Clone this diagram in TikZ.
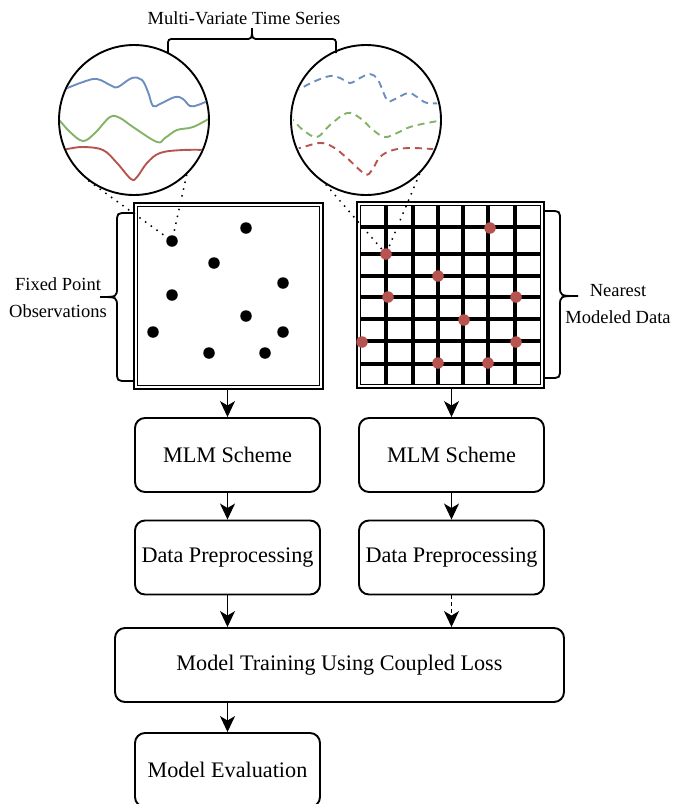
\documentclass[tikz,border=0pt]{standalone}
\usepackage{fontspec}
\setmainfont{Liberation Serif}
\usetikzlibrary{arrows.meta}
\definecolor{tsblue}{HTML}{6C8EBF}
\definecolor{tsgreen}{HTML}{82B366}
\definecolor{tsred}{HTML}{B85450}
\begin{document}
\begin{tikzpicture}[x=1pt,y=-1pt,
  flowbox/.style={draw, line width=1.9pt, rounded corners=10pt, minimum width=185pt, minimum height=74pt, inner sep=0pt, font=\fontsize{22.2}{26}\selectfont},
  >={Stealth[length=16pt,width=15pt,inset=4.5pt]},
  arr/.style={line width=1.7pt, ->},
  obsbox/.style={draw, line width=1.5pt, double=white, double distance=2.1pt, inner sep=0pt},
  mag/.style={circle, draw, line width=1.9pt, minimum size=150pt, inner sep=0pt},
  blackdot/.style={circle, fill=black, minimum size=11.5pt, inner sep=0pt},
  reddot/.style={circle, fill=tsred, minimum size=11.5pt, inner sep=0pt},
  dotline/.style={line width=1.5pt, dash pattern=on 1.5pt off 5.5pt},
  tsline/.style={line width=1.9pt},
  tsdash/.style={line width=1.9pt, dash pattern=on 7pt off 5pt},
  gridline/.style={line width=4pt},
  bracepath/.style={line width=1.8pt},
  lbl/.style={align=center, inner sep=0pt, font=\fontsize{18.5}{27}\selectfont}
]
\useasboundingbox (0,0) rectangle (674,804);

% magnifier circles
\node[mag] (lc) at (134,120) {};
\node[mag] (rc) at (366,120) {};

\begin{scope}
\clip (134,120) circle (74pt);
\draw[tsline, tsblue] plot[smooth, tension=0.6] coordinates {(58,92) (65,89) (83,82) (97,79) (112,86) (118,87) (132,78) (142,80) (148,92) (153,106) (160,104) (175,97) (183,99) (190,106) (198,105) (212,99)};
\draw[tsline, tsgreen] plot[smooth, tension=0.6] coordinates {(55,117) (60,121) (70,132) (83,141) (95,133) (110,117) (120,118) (133,127) (157,142) (165,138) (177,130) (193,127) (212,117)};
\draw[tsline, tsred] plot[smooth, tension=0.6] coordinates {(58,150) (67,149) (83,147) (103,150) (117,163) (131,179) (137,177) (147,163) (160,153) (183,150) (212,150)};
\end{scope}

\begin{scope}
\clip (366,120) circle (73pt);
\draw[tsdash, tsblue] plot[smooth, tension=0.6] coordinates {(293,92) (298,90) (313,82) (330,76) (340,78) (350,83) (360,78) (370,74) (378,80) (387,100) (393,100) (408,93) (417,97) (427,103) (444,103)};
\draw[tsdash, tsgreen] plot[smooth, tension=0.6] coordinates {(288,117) (293,120) (303,130) (317,137) (330,125) (347,113) (360,118) (373,130) (385,137) (397,133) (410,127) (427,123) (444,120)};
\draw[tsdash, tsred] plot[smooth, tension=0.6] coordinates {(294,149) (300,148) (320,143) (333,147) (347,158) (365,174) (372,170) (380,157) (393,150) (413,148) (444,150)};
\end{scope}

% top brace and title
\draw[bracepath] (168,53) -- (168,46) .. controls (168,39) .. (175,39) -- (245,39) .. controls (252,39) .. (252,28) .. controls (252,39) .. (259,39) -- (329,39) .. controls (336,39) .. (336,46) -- (336,53);
\node[lbl] (title) at (244,18) {Multi-Variate Time Series};

% observation boxes
\node[obsbox, minimum width=185.6pt, minimum height=182.6pt] (obsL) at (228.5,296) {};
\node[obsbox, minimum width=183.6pt, minimum height=182.6pt] (obsR) at (450.5,295) {};

% grid
\foreach \gx in {386,413,438,463,488,515} \draw[gridline] (\gx,206) -- (\gx,384);
\foreach \gy in {227,254,276,297,319,341,364} \draw[gridline] (361,\gy) -- (540,\gy);

% dots
\node[blackdot] (b1) at (172,241) {};
\node[blackdot] (b2) at (246,228) {};
\node[blackdot] (b3) at (214,263) {};
\node[blackdot] (b4) at (283,283) {};
\node[blackdot] (b5) at (172,295) {};
\node[blackdot] (b6) at (246,316) {};
\node[blackdot] (b7) at (153,332) {};
\node[blackdot] (b8) at (283,332) {};
\node[blackdot] (b9) at (209,353) {};
\node[blackdot] (b10) at (265,353) {};

\node[reddot] (r1) at (490,228) {};
\node[reddot] (r2) at (386,254) {};
\node[reddot] (r3) at (438,276) {};
\node[reddot] (r4) at (388,297) {};
\node[reddot] (r5) at (516,297) {};
\node[reddot] (r6) at (464,320) {};
\node[reddot] (r7) at (362,342) {};
\node[reddot] (r8) at (516,342) {};
\node[reddot] (r9) at (438,363) {};
\node[reddot] (r10) at (488,363) {};

% dotted magnifier lines
\draw[dotline] (lc.233) -- (b1);
\draw[dotline] (lc.314) -- (b1);
\draw[dotline] (rc.238) -- (r2);
\draw[dotline] (rc.315) -- (r2);

% side braces and labels
\draw[bracepath] (134,213) -- (127,213) .. controls (117,213) .. (117,223) -- (117,287) .. controls (117,297) .. (100,297) .. controls (117,297) .. (117,307) -- (117,371) .. controls (117,381) .. (127,381) -- (134,381);
\node[lbl] (fixed) at (58,298) {Fixed Point\\Observations};

\draw[bracepath] (544,211) -- (550,211) .. controls (560,211) .. (560,221) -- (560,286) .. controls (560,296) .. (578,296) .. controls (560,296) .. (560,306) -- (560,368) .. controls (560,378) .. (550,378) -- (544,378);
\node[lbl] (near) at (618,304) {Nearest\\Modeled Data};

% flow boxes
\node[flowbox] (mlmL) at (227.5,455) {MLM Scheme};
\node[flowbox] (mlmR) at (451.5,455) {MLM Scheme};
\node[flowbox] (dpL) at (227.5,557.5) {Data Preprocessing};
\node[flowbox] (dpR) at (451.5,557.5) {Data Preprocessing};
\node[flowbox, minimum width=449pt] (train) at (339.5,665) {Model Training Using Coupled Loss};
\node[flowbox] (eval) at (227.5,770) {Model Evaluation};

% arrows
\draw[arr] (obsL.south -| mlmL.north) -- (mlmL.north);
\draw[arr] (obsR.south -| mlmR.north) -- (mlmR.north);
\draw[arr] (mlmL) -- (dpL);
\draw[arr] (mlmR) -- (dpR);
\draw[arr] (dpL.south) -- (dpL.south |- train.north);
\draw[arr, dash pattern=on 4pt off 3pt] (dpR.south) -- (dpR.south |- train.north);
\draw[arr] (train.south -| eval.north) -- (eval.north);
\end{tikzpicture}
\end{document}
